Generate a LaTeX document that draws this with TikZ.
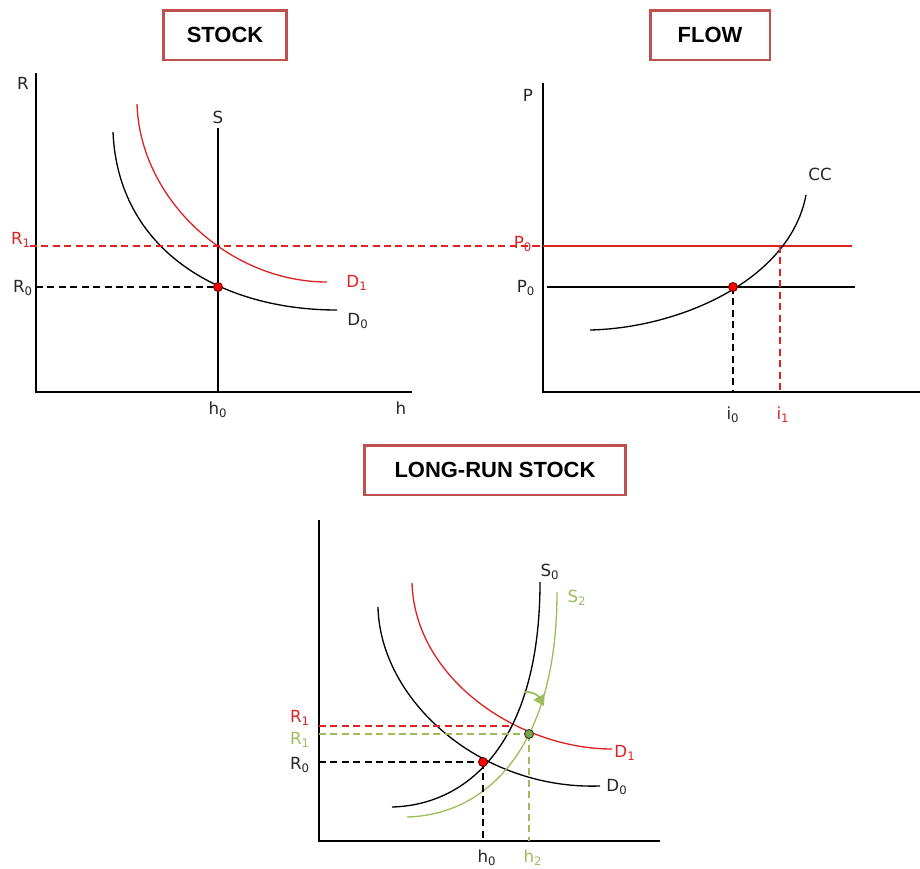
\documentclass[tikz,border=0pt]{standalone}
\usepackage{fontspec}
\setmainfont{DejaVu Sans}
\newfontfamily\titlefont{Liberation Sans}
\usetikzlibrary{arrows.meta}

\definecolor{boxred}{RGB}{192,80,77}
\definecolor{curvered}{RGB}{222,35,35}
\definecolor{shiftgreen}{RGB}{155,190,90}
\definecolor{dotgreen}{RGB}{125,165,65}

\begin{document}
\begin{tikzpicture}[
  x=0.02cm,
  y=-0.02cm,
  >=Latex,
  every node/.style={font=\fontsize{9.5}{11}\selectfont,inner sep=1pt,text=black!85},
  titlebox/.style={draw=boxred,line width=1.7pt,minimum height=1cm,text=black,
    font=\titlefont\bfseries\fontsize{12.5}{14}\selectfont},
  axis/.style={line width=0.9pt},
  curve/.style={line width=0.75pt},
  guide/.style={dash pattern=on 4pt off 2.5pt,line width=0.7pt},
  redlab/.style={text=curvered},
  greenlab/.style={text=shiftgreen},
  dot/.style={circle,fill=red,draw=black!60!red,line width=0.5pt,
    minimum size=0.18cm,inner sep=0pt},
  gdot/.style={dot,fill=dotgreen,draw=black!80}
]
\useasboundingbox (0,0) rectangle (920,869);

% Titles
\node[titlebox,minimum width=2.48cm] (stock) at (225,35) {STOCK};
\node[titlebox,minimum width=2.4cm] (flow) at (710,35) {FLOW};
\node[titlebox,minimum width=5.22cm] (longrun) at (495,470) {LONG-RUN STOCK};

% Stock market: axes
\coordinate (so) at (36,392);
\coordinate (sy) at (36,73);
\coordinate (sx) at (412,392);
\draw[axis] (sy) -- (so) -- (sx);
\node (sR) at (23,83) {R};
\node (sh) at (401,408) {h};

% Stock market: fixed supply
\coordinate (sS) at (218,128);
\coordinate (sSb) at (218,392);
\draw[curve] (sS) -- (sSb);
\node (sSlab) at (218,117) {S};
\node (sh0) at (218,410) {h\textsubscript{0}};

% Stock market: demand
\draw[curve] (113,132) .. controls (118,250) and (220,310) .. (337,310);
\draw[curve,curvered] (137,104) .. controls (140,200) and (230,282) .. (327,282);
\node (sD0) at (358,321) {D\textsubscript{0}};
\node[redlab] (sD1) at (357,283) {D\textsubscript{1}};

% Stock market: prices
\coordinate (se0) at (218,287);
\coordinate (sR0a) at (36,287);
\coordinate (r1start) at (30,246);
\coordinate (fP1a) at (543,246);
\draw[guide] (sR0a) -- (se0);
\draw[guide,curvered] (r1start) -- (fP1a);
\node (sR0) at (23,288) {R\textsubscript{0}};
\node[redlab] (sR1) at (21,240) {R\textsubscript{1}};
\node[dot] (sdot) at (se0) {};

% Flow market: axes
\coordinate (fo) at (543,392);
\coordinate (fy) at (543,83);
\coordinate (fx) at (920,392);
\draw[axis] (fy) -- (fo) -- (fx);
\node (fP) at (528,95) {P};

% Flow market: price lines
\coordinate (fP1b) at (852,246);
\coordinate (fP0a) at (547,287);
\coordinate (fP0b) at (855,287);
\draw[curve,curvered] (fP1a) -- (fP1b);
\draw[curve] (fP0a) -- (fP0b);
\node[redlab] (fP1lab) at (523,244) {P\textsubscript{0}};
\node (fP0lab) at (526,288) {P\textsubscript{0}};

% Flow market: construction cost
\draw[curve] (590,330) .. controls (680,328) and (790,280) .. (806,195);
\node (fCC) at (820,174) {CC};

% Flow market: construction
\coordinate (fe0) at (733,287);
\coordinate (fe1) at (780,246);
\draw[guide] (fe0) -- (fe0 |- fo);
\draw[guide,curvered] (fe1) -- (fe1 |- fo);
\node (fi0) at (733,415) {i\textsubscript{0}};
\node[redlab] (fi1) at (783,415) {i\textsubscript{1}};
\node[dot] (fdot) at (fe0) {};

% Long run: axes
\coordinate (lo) at (319,841);
\coordinate (ly) at (319,520);
\coordinate (lx) at (660,841);
\draw[axis] (ly) -- (lo) -- (lx);

% Long run: demand
\draw[curve] (378,607) .. controls (380,700) and (480,790) .. (600,786);
\draw[curve,curvered] (412,583) .. controls (415,680) and (520,749) .. (612,749);
\node (lD0) at (617,787) {D\textsubscript{0}};
\node[redlab] (lD1) at (625,753) {D\textsubscript{1}};

% Long run: supply
\draw[curve] (392,807) .. controls (470,805) and (540,740) .. (540,582);
\draw[curve,shiftgreen] (407,817) .. controls (485,815) and (557,750) .. (557,592);
\node (lS0) at (550,572) {S\textsubscript{0}};
\node[greenlab] (lS2) at (577,598) {S\textsubscript{2}};
\coordinate (shifta) at (524,692);
\coordinate (shiftb) at (544,706);
\draw[shiftgreen,line width=1pt,-{Triangle[length=6pt,width=7pt]}]
  (shifta) .. controls (531,691) and (538,695) .. (shiftb);

% Long run: equilibria
\coordinate (le0) at (483,762);
\coordinate (le1) at (512,726);
\coordinate (le2) at (529,734);
\draw[guide,curvered] (le1 -| lo) -- (le1);
\draw[guide,shiftgreen] (le2 -| lo) -- (le2);
\draw[guide] (le0 -| lo) -- (le0);
\draw[guide] (le0) -- (le0 |- lo);
\draw[guide,shiftgreen] (le2) -- (le2 |- lo);
\node[redlab] (lR1) at (300,718) {R\textsubscript{1}};
\node[greenlab] (lR1g) at (300,740) {R\textsubscript{1}};
\node (lR0) at (300,765) {R\textsubscript{0}};
\node (lh0) at (487,858) {h\textsubscript{0}};
\node[greenlab] (lh2) at (533,858) {h\textsubscript{2}};
\node[dot] (ldot0) at (le0) {};
\node[gdot] (ldot2) at (le2) {};
\end{tikzpicture}
\end{document}
